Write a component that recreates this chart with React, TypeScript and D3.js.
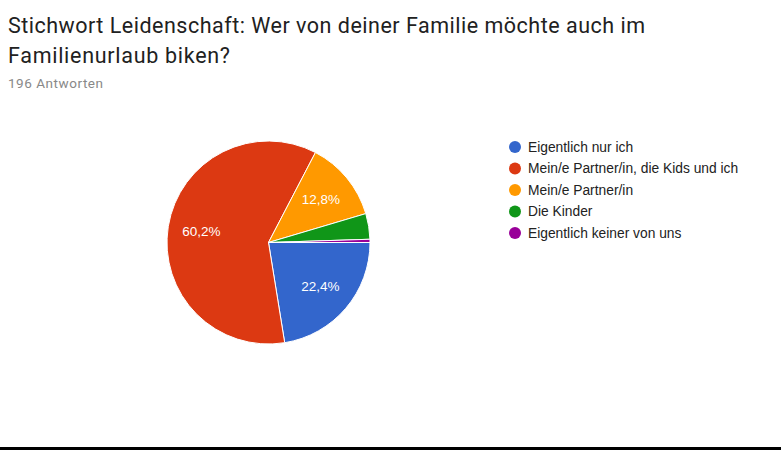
import React from "react";
import * as d3 from "d3";

const categories = [
  "Eigentlich nur ich",
  "Mein/e Partner/in, die Kids und ich",
  "Mein/e Partner/in",
  "Die Kinder",
  "Eigentlich keiner von uns",
];
const counts = [44, 118, 25, 8, 1];
const colors = ["#3366CC", "#DC3912", "#FF9900", "#109618", "#990099"];
const titleLines = [
  "Stichwort Leidenschaft: Wer von deiner Familie möchte auch im",
  "Familienurlaub biken?",
];
const subtitle = "196 Antworten";

export default function App() {
  const W = 781, H = 450;
  const cx = 268.5, cy = 242.5, r = 101.5;
  const total = d3.sum(counts);
  const pie = d3
    .pie<number>()
    .sort(null)
    .startAngle(Math.PI / 2)
    .endAngle(Math.PI / 2 + 2 * Math.PI)
    .value((d) => d);
  const arcs = pie(counts);
  const arc = d3.arc<d3.PieArcDatum<number>>().innerRadius(0).outerRadius(r);
  const labelArc = d3.arc<d3.PieArcDatum<number>>().innerRadius(r * 0.67).outerRadius(r * 0.67);
  const legendY = d3.scalePoint<number>().domain(d3.range(categories.length)).range([147, 233]);
  const fmt = (v: number) => (Math.round((v / total) * 1000) / 10).toFixed(1).replace(".", ",") + "%";
  const titleLens = [637, 222];

  return (
    <svg
      width={W}
      height={H}
      style={{ position: "fixed", left: 0, top: 0, background: "#fff" }}
    >
      <rect width={W} height={H} fill="#fff" />
      {titleLines.map((t, i) => (
        <text
          key={i}
          x={8}
          y={33 + i * 30}
          fontFamily="Roboto"
          fontSize={21.5}
          fill="#212121"
          textLength={titleLens[i]}
          lengthAdjust="spacing"
        >
          {t}
        </text>
      ))}
      <text
        x={8}
        y={88}
        fontFamily="Roboto"
        fontSize={13.5}
        fill="#888"
        textLength={95}
        lengthAdjust="spacing"
      >
        {subtitle}
      </text>
      <g transform={`translate(${cx},${cy})`}>
        {arcs.map((a, i) => (
          <path key={i} d={arc(a) || ""} fill={colors[i]} stroke="#fff" strokeWidth={1} />
        ))}
        {arcs.map((a, i) => {
          if (a.value / total < 0.05) return null;
          const [x, y] = labelArc.centroid(a);
          return (
            <text
              key={"l" + i}
              x={x}
              y={y}
              dy="0.35em"
              textAnchor="middle"
              fontFamily="Liberation Sans, Arial"
              fontSize={13.5}
              fill="#fff"
            >
              {fmt(a.value)}
            </text>
          );
        })}
      </g>
      {categories.map((c, i) => (
        <g key={c} transform={`translate(0,${legendY(i)})`}>
          <circle cx={515} cy={0} r={6} fill={colors[i]} />
          <text
            x={528}
            y={0}
            dy="0.35em"
            fontFamily="Liberation Sans, Arial"
            fontSize={13.8}
            fill="#222"
          >
            {c}
          </text>
        </g>
      ))}
      <rect x={0} y={447} width={W} height={3} fill="#000" />
    </svg>
  );
}
